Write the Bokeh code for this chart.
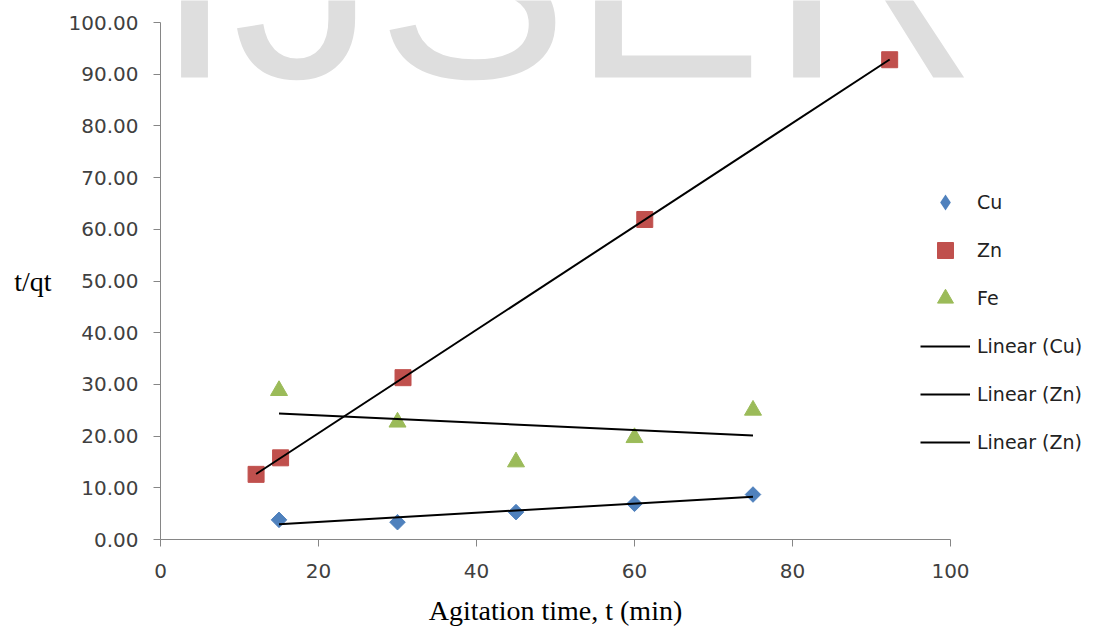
import numpy as np
from bokeh.plotting import figure
from bokeh.models import (Range1d, FixedTicker, PrintfTickFormatter, Legend,
                          LegendItem, Label, LinearAxis)
from bokeh.embed import file_html
from bokeh.resources import INLINE

# ---- data ----
time_cu = [15, 30, 45, 60, 75]
cu = [3.8, 3.35, 5.3, 6.9, 8.7]
time_zn = [12.1, 15.2, 30.7, 61.3, 92.3]
zn = [12.6, 15.8, 31.3, 61.9, 92.8]
time_fe = [15, 30, 45, 60, 75]
fe = [28.8, 22.7, 15.0, 19.7, 25.0]
x_ticks = [0, 20, 40, 60, 80, 100]
y_ticks = [0, 10, 20, 30, 40, 50, 60, 70, 80, 90, 100]
watermark_letters = ["I", "J", "S", "E", "R"]

BLUE = "#4F81BD"
RED = "#C0504D"
GREEN = "#9BBB59"
AXIS = "#868686"
TICK_TXT = "#404040"

# canvas geometry: plotting area 0..100 maps to pixels 160..950 (x), 539..22 (y)
W, H = 1099, 630
PX0, PX1 = 160, 950
PY0, PY1 = 539, 22
sx = (PX1 - PX0) / 100.0
sy = (PY0 - PY1) / 100.0

p = figure(width=W, height=H, output_backend="svg", toolbar_location=None,
           x_range=Range1d(-PX0 / sx, (W - PX0) / sx),
           y_range=Range1d(-(H - PY0) / sy, PY0 / sy),
           x_axis_location=None, y_axis_location=None,
           min_border=0)
p.outline_line_color = None
p.grid.visible = False
p.background_fill_color = "white"
p.border_fill_color = "white"

# watermark (screen units relative to the frame = whole canvas)
wm_pos = [194, 304, 472, 667, 873]
for letter, xs in zip(watermark_letters, wm_pos):
    p.add_layout(Label(x=xs, y=653, x_units="screen", y_units="screen",
                       text=letter, text_align="center",
                       text_baseline="alphabetic",
                       text_font="Liberation Sans", text_font_size="288px",
                       text_color="#DEDEDE", level="underlay"))

xaxis = LinearAxis(fixed_location=0, bounds=(0, 100))
yaxis = LinearAxis(fixed_location=0, bounds=(0, 100))
p.add_layout(xaxis, "below")
p.add_layout(yaxis, "left")

for ax in (xaxis, yaxis):
    ax.axis_line_color = AXIS
    ax.major_tick_line_color = AXIS
    ax.minor_tick_line_color = None
    ax.major_tick_in = 0
    ax.major_tick_out = 7
    ax.major_label_text_font = "DejaVu Sans"
    ax.major_label_text_font_size = "20px"
    ax.major_label_text_color = TICK_TXT
    ax.axis_label_text_font = "Liberation Serif"
    ax.axis_label_text_font_style = "normal"
    ax.axis_label_text_color = "black"

xaxis.ticker = FixedTicker(ticks=x_ticks)
yaxis.ticker = FixedTicker(ticks=y_ticks)
yaxis.formatter = PrintfTickFormatter(format="%.2f")
xaxis.major_label_standoff = 17
yaxis.major_label_standoff = 15
xaxis.axis_label = "Agitation time, t (min)"
xaxis.axis_label_text_font_size = "28px"
xaxis.axis_label_standoff = 14
yaxis.axis_label = "t/qt"
yaxis.axis_label_orientation = "horizontal"
yaxis.axis_label_text_font_size = "28px"
yaxis.axis_label_standoff = 14

# markers
r_cu = p.scatter(time_cu, cu, marker="square", angle=45, angle_units="deg",
                 size=11, fill_color=BLUE, line_color=BLUE)
r_zn = p.scatter(time_zn, zn, marker="square", size=16,
                 fill_color=RED, line_color=RED)
r_fe = p.scatter(time_fe, fe, marker="triangle", size=17,
                 fill_color=GREEN, line_color=GREEN)
# zero-size diamond copy of the Cu series: invisible in the plot, used only
# for the legend swatch (legend swatch size comes from the legend box)
r_cu_key = p.scatter(time_cu, cu, marker="diamond", size=0,
                     fill_color=BLUE, line_color=None)


def trend(xv, yv):
    k, b = np.polyfit(xv, yv, 1)
    xs = np.array([min(xv), max(xv)], dtype=float)
    return xs, k * xs + b


xs, ys = trend(time_cu, cu)
l_cu = p.line(xs, ys, line_color="black", line_width=2)
xs, ys = trend(time_zn, zn)
l_zn = p.line(xs, ys, line_color="black", line_width=2)
xs, ys = trend(time_fe, fe)
l_fe = p.line(xs, ys, line_color="black", line_width=2)

legend = Legend(items=[
    LegendItem(label="Cu", renderers=[r_cu_key]),
    LegendItem(label="Zn", renderers=[r_zn]),
    LegendItem(label="Fe", renderers=[r_fe]),
    LegendItem(label="Linear (Cu)", renderers=[l_cu]),
    LegendItem(label="Linear (Zn)", renderers=[l_zn]),
    LegendItem(label="Linear (Zn)", renderers=[l_fe]),
], location=(920, 168), orientation="vertical",
    background_fill_alpha=0, border_line_color=None,
    padding=0, margin=0, spacing=8,
    glyph_width=50, glyph_height=40, label_height=40, label_standoff=7,
    label_text_font="DejaVu Sans", label_text_font_size="19px",
    label_text_color="#222222")
p.add_layout(legend, "center")

open("out.html", "w").write(file_html(p, INLINE))
